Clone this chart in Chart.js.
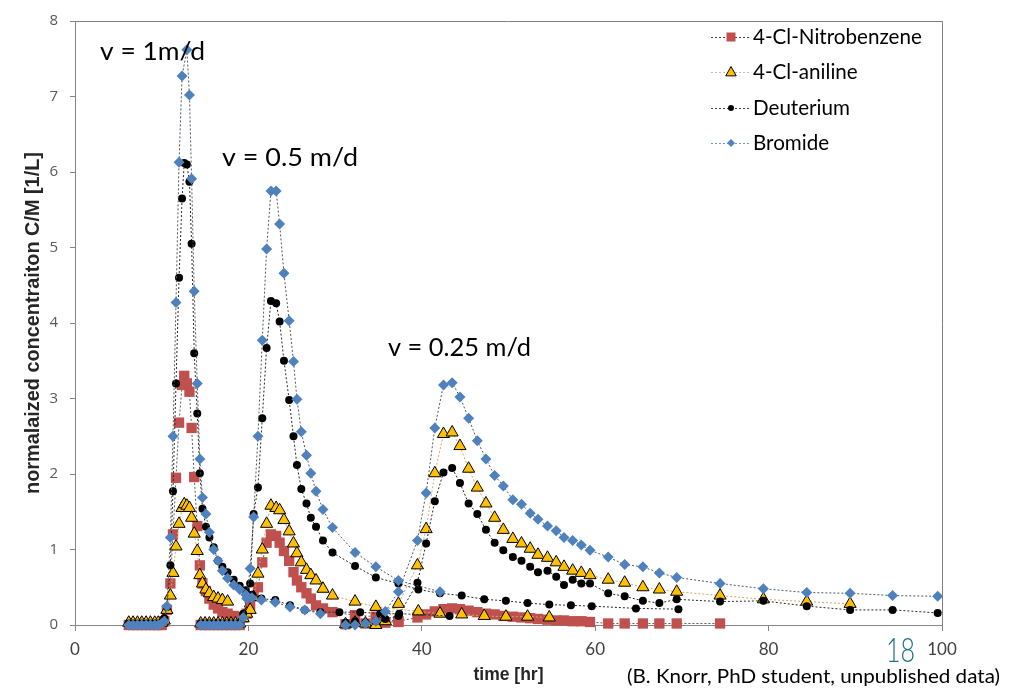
<!DOCTYPE html>
<html>
<head>
<meta charset="utf-8">
<script src="https://cdn.jsdelivr.net/npm/chart.js@4.4.0/dist/chart.umd.min.js"></script>
<style>
  html, body { margin: 0; padding: 0; background: #fff; }
  #wrap { position: relative; width: 1010px; height: 688px; }
</style>
</head>
<body>
<div id="wrap"><canvas id="myChart" width="1010" height="688"></canvas></div>
<script>
// Series names (legend order)
const species = ['4-Cl-Nitrobenzene', '4-Cl-aniline', 'Deuterium', 'Bromide'];

// Run v = 1 m/d : sampling times [hr] and C/M values
const t_v1 = [6.2, 6.7, 7.2, 7.7, 8.2, 8.7, 9.2, 9.6, 10.0, 10.3, 10.6, 11.0, 11.3, 11.65, 12.0, 12.35, 12.6, 12.9, 13.2, 13.45, 13.75, 14.1, 14.4, 14.7, 15.1, 15.5, 16.0, 16.5, 17.0, 17.6, 18.3, 19.0, 19.7, 20.4, 21.5, 23.1, 24.8, 26.5, 28.3, 30.5, 32.9, 35.2, 37.4, 43.2];
const nitro_v1 = [0, 0, 0, 0, 0, 0, 0, 0, 0, 0.05, 0.2, 0.55, 1.2, 1.95, 2.68, 3.18, 3.3, 3.2, 3.09, 2.61, 1.96, 1.31, 0.79, 0.55, 0.45, 0.35, 0.27, 0.22, 0.17, 0.15, 0.12, 0.1, null, null, null, null, null, null, null, null, null, null, null, null];
const aniline_v1 = [0.03, 0.03, 0.03, 0.03, 0.03, 0.03, 0.03, 0.03, 0.03, 0.06, 0.2, 0.39, 0.69, 1.04, 1.34, 1.55, 1.6, 1.58, 1.55, 1.42, 1.21, 0.98, 0.66, 0.55, 0.47, 0.42, 0.37, 0.35, 0.33, 0.31, null, null, null, null, null, null, null, null, null, null, null, null, null, null];
const deut_v1 = [0.02, 0.02, 0.02, 0.02, 0.02, 0.02, 0.02, 0.02, 0.03, 0.09, 0.24, 0.79, 1.77, 3.2, 4.6, 5.65, 6.12, 6.1, 5.87, 5.05, 3.6, 2.8, 2.01, 1.54, 1.3, 1.16, 1.03, 0.85, 0.77, 0.7, 0.6, 0.52, 0.46, 0.4, 0.35, 0.33, 0.26, 0.2, 0.17, 0.17, 0.17, 0.15, 0.15, 0.12];
const brom_v1 = [0, 0, 0, 0, 0, 0, 0, 0, 0.02, 0.05, 0.25, 1.16, 2.5, 4.27, 6.13, 7.27, null, 7.62, 7.02, 5.91, 4.42, 3.2, 2.2, 1.69, 1.47, 1.23, 1.0, 0.85, 0.72, 0.62, 0.53, 0.47, 0.4, 0.36, 0.33, 0.3, 0.24, 0.2, 0.15, null, null, null, null, null];

// Run v = 0.5 m/d
const t_v05 = [14.5, 15.0, 15.5, 16.0, 16.5, 17.0, 17.5, 18.0, 18.5, 19.0, 19.4, 19.8, 20.2, 20.6, 21.1, 21.6, 22.1, 22.6, 23.2, 23.6, 24.1, 24.7, 25.2, 25.6, 26.1, 26.7, 27.2, 27.8, 28.6, 29.7, 32.3, 34.7, 37.3, 39.6, 42.1, 44.6, 47.2, 49.7, 52.2, 54.7, 57.2, 59.6, 64.7, 69.6];
const nitro_v05 = [0, 0, 0, 0, 0, 0, 0, 0, 0, 0, 0.1, 0.15, 0.26, 0.38, 0.5, 0.83, 1.09, 1.2, 1.18, 1.09, 0.98, 0.85, 0.7, 0.59, 0.5, 0.42, 0.35, 0.26, 0.22, 0.17, 0.13, 0.11, 0.04, null, null, null, null, null, null, null, null, null, null, null];
const aniline_v05 = [0.02, 0.02, 0.02, 0.02, 0.02, 0.02, 0.02, 0.02, 0.02, 0.02, 0.09, 0.15, 0.2, 0.37, 0.68, 1.0, 1.34, 1.58, 1.55, 1.52, 1.39, 1.24, 1.08, 0.95, 0.83, 0.73, 0.66, 0.59, 0.48, 0.39, 0.31, 0.24, null, 0.18, 0.15, 0.14, 0.12, 0.11, 0.11, 0.10, null, null, null, null];
const deut_v05 = [0.02, 0.02, 0.02, 0.02, 0.02, 0.02, 0.02, 0.02, 0.02, 0.02, 0.15, 0.39, 0.55, 1.47, 1.82, 2.74, 3.67, 4.29, 4.26, 4.02, 3.5, 2.98, 2.5, 2.12, 1.8, 1.61, 1.42, 1.3, 1.12, 0.96, 0.78, 0.63, 0.55, 0.47, 0.42, 0.39, 0.34, 0.32, 0.29, 0.27, 0.26, 0.25, 0.22, 0.21];
const brom_v05 = [0, 0, 0, 0, 0, 0, 0, 0, 0, 0, 0.1, 0.35, 0.75, 1.43, 2.5, 3.77, 4.98, 5.75, 5.75, 5.31, 4.66, 4.03, 3.49, 2.99, 2.56, 2.25, 2.01, 1.77, 1.53, 1.29, 0.96, 0.77, 0.59, null, 0.44, null, null, null, null, null, null, null, null, null];

// Run v = 0.25 m/d
const t_v025 = [31.2, 32.3, 33.5, 34.7, 35.8, 37.3, 39.5, 40.5, 41.5, 42.5, 43.5, 44.4, 45.4, 46.4, 47.4, 48.4, 49.4, 50.5, 51.5, 52.5, 53.4, 54.5, 55.5, 56.4, 57.4, 58.4, 59.4, 61.5, 63.4, 65.5, 67.4, 69.4, 74.4, 79.4, 84.4, 89.4, 94.3, 99.5];
const nitro_v025 = [0.01, 0.05, 0.02, 0.08, 0.03, 0.05, 0.1, 0.14, 0.18, 0.21, 0.22, 0.21, 0.19, 0.17, 0.15, 0.14, 0.12, 0.11, 0.1, 0.09, 0.08, 0.07, 0.06, 0.06, 0.05, 0.05, 0.04, 0.02, 0.02, 0.02, 0.02, 0.02, 0.02, null, null, null, null, null];
const aniline_v025 = [0.01, 0.03, 0.02, 0.0, 0.05, 0.28, 0.79, 1.27, 2.01, 2.53, 2.55, 2.37, 2.07, 1.82, 1.61, 1.42, 1.26, 1.14, 1.08, 1.01, 0.93, 0.89, 0.83, 0.77, 0.72, 0.69, 0.66, 0.6, 0.56, 0.5, 0.47, 0.44, 0.39, 0.34, 0.31, 0.28, null, null];
const deut_v025 = [0.03, 0.05, 0.03, 0.05, 0.08, 0.12, 0.56, 1.08, 1.64, 2.02, 2.08, 1.88, 1.61, 1.47, 1.26, 1.09, 0.99, 0.9, 0.85, 0.77, 0.70, 0.72, 0.64, 0.53, 0.60, 0.55, 0.55, 0.42, 0.38, 0.32, 0.29, 0.34, 0.31, 0.32, 0.25, 0.2, 0.2, 0.16];
const brom_v025 = [0, 0, 0.02, 0.05, 0.18, 0.44, 1.12, 1.75, 2.61, 3.18, 3.21, 3.02, 2.74, 2.44, 2.2, 1.98, 1.84, 1.66, 1.6, 1.48, 1.40, 1.31, 1.25, 1.16, 1.12, 1.06, 0.99, 0.9, 0.8, 0.77, 0.69, 0.63, 0.55, 0.48, 0.43, 0.42, 0.39, 0.38];

// Axis ticks
const x_ticks = [0, 20, 40, 60, 80, 100];
const y_ticks = [0, 1, 2, 3, 4, 5, 6, 7, 8];

// Run annotations
const run_labels = ['v = 1m/d', 'v = 0.5 m/d', 'v = 0.25 m/d'];

const runs = [
  { t: t_v1, vals: [nitro_v1, aniline_v1, deut_v1, brom_v1] },
  { t: t_v05, vals: [nitro_v05, aniline_v05, deut_v05, brom_v05] },
  { t: t_v025, vals: [nitro_v025, aniline_v025, deut_v025, brom_v025] }
];

// marker / line look per species
const styles = [
  { shape: 'rect', radius: 7.3, fill: '#C0504D', stroke: '#C0504D', bw: 0, line: '#5a5a5a' },
  { shape: 'triangle', radius: 7, fill: '#FFC000', stroke: '#000000', bw: 1, line: '#d2a867' },
  { shape: 'circle', radius: 4, fill: '#000000', stroke: '#000000', bw: 0, line: '#262626' },
  { shape: 'rectRot', radius: 5.5, fill: '#4F81BD', stroke: '#4F81BD', bw: 0, line: '#4d5866' }
];

const fam = "Lato, 'Open Sans', sans-serif";
const plain = "'Liberation Sans', Arial, sans-serif";

// font size that makes text span a given width
const mctx = document.createElement('canvas').getContext('2d');
function fitSize(text, weight, family, width) {
  mctx.font = weight + ' 100px ' + family;
  return 100 * width / mctx.measureText(text).width;
}

// text squeezed horizontally to a given width (condensed slide font look)
function squeezeText(ctx, text, font, x, y, width) {
  ctx.font = font;
  const w = ctx.measureText(text).width;
  ctx.save();
  ctx.translate(x, y);
  ctx.scale(width / w, 1);
  ctx.fillText(text, 0, 0);
  ctx.restore();
}

const datasets = [];
runs.forEach(run => {
  run.vals.forEach((vals, k) => {
    const st = styles[k];
    const pts = [];
    run.t.forEach((t, i) => { if (vals[i] !== null) pts.push({ x: t, y: vals[i] }); });
    datasets.push({
      label: species[k],
      data: pts,
      order: 4 - k,
      borderColor: st.line,
      borderWidth: 1,
      borderDash: [2, 2],
      pointStyle: st.shape,
      pointRadius: st.radius,
      pointBackgroundColor: st.fill,
      pointBorderColor: st.stroke,
      pointBorderWidth: st.bw,
      fill: false,
      tension: 0,
      clip: false
    });
  });
});

function drawMarker(ctx, shape, x, y, r, fill, stroke, bw) {
  ctx.beginPath();
  if (shape === 'rect') {
    ctx.rect(x - r, y - r, 2 * r, 2 * r);
  } else if (shape === 'triangle') {
    ctx.moveTo(x, y - r);
    ctx.lineTo(x + r * 0.95, y + r * 0.7);
    ctx.lineTo(x - r * 0.95, y + r * 0.7);
    ctx.closePath();
  } else if (shape === 'circle') {
    ctx.arc(x, y, r, 0, Math.PI * 2);
  } else {
    ctx.moveTo(x - r, y); ctx.lineTo(x, y - r); ctx.lineTo(x + r, y); ctx.lineTo(x, y + r);
    ctx.closePath();
  }
  ctx.fillStyle = fill;
  ctx.fill();
  if (bw) { ctx.lineWidth = bw; ctx.strokeStyle = stroke; ctx.stroke(); }
}

const extras = {
  id: 'extras',
  afterDraw(chart) {
    const ctx = chart.ctx;
    const a = chart.chartArea;
    ctx.save();
    // frame top and right
    ctx.strokeStyle = '#7f7f7f';
    ctx.lineWidth = 1;
    ctx.beginPath();
    ctx.moveTo(a.left, Math.round(a.top) + 0.5);
    ctx.lineTo(Math.round(a.right) + 0.5, Math.round(a.top) + 0.5);
    ctx.lineTo(Math.round(a.right) + 0.5, a.bottom);
    ctx.stroke();

    ctx.textBaseline = 'middle';
    ctx.textAlign = 'left';
    ctx.fillStyle = '#000';
    // run labels
    const runPos = [[100, 52, 105], [222, 158, 136], [388, 348, 143]];
    run_labels.forEach((txt, i) => {
      const p = runPos[i];
      squeezeText(ctx, txt, '25px ' + fam, p[0], p[1], p[2]);
    });

    // legend
    const legY = [37, 72, 108, 143];
    const legR = [4.5, 5.5, 3, 4];
    const legSize = fitSize(species[0], 'normal', fam, 169);
    species.forEach((name, k) => {
      const st = styles[k];
      const y = legY[k];
      ctx.save();
      ctx.strokeStyle = k === 1 ? '#bdbdbd' : (k === 3 ? '#7d95b5' : '#404040');
      ctx.lineWidth = 1;
      ctx.setLineDash([2, 2]);
      ctx.beginPath();
      ctx.moveTo(711, y + 0.5);
      ctx.lineTo(751, y + 0.5);
      ctx.stroke();
      ctx.restore();
      drawMarker(ctx, st.shape, 731, y, legR[k], st.fill, st.stroke, st.bw);
      ctx.fillStyle = '#000';
      ctx.font = legSize.toFixed(1) + 'px ' + fam;
      ctx.fillText(name, 753, y);
    });

    // slide footer
    const credit = '(B. Knorr, PhD student, unpublished data)';
    ctx.fillStyle = '#000';
    squeezeText(ctx, credit, '20px ' + fam, 627, 677, 373);
    ctx.fillStyle = '#1f6f87';
    squeezeText(ctx, '18', '300 34px ' + fam, 886, 651, 29);
    ctx.restore();
  }
};

const yTitle = 'normalaized concentraiton C/M [1/L]';
const xTitle = 'time [hr]';

const ctx = document.getElementById('myChart').getContext('2d');
const chart = new Chart(ctx, {
  type: 'line',
  data: { datasets: datasets },
  options: {
    responsive: false,
    animation: false,
    events: [],
    layout: { padding: { left: 0, top: 17, right: 68, bottom: 0 } },
    plugins: {
      legend: { display: false },
      tooltip: { enabled: false }
    },
    scales: {
      x: {
        type: 'linear',
        min: 0, max: 100,
        afterFit: s => { s.height = 63; },
        afterBuildTicks: s => { s.ticks = x_ticks.map(v => ({ value: v })); },
        grid: { drawOnChartArea: false, drawTicks: true, tickLength: 6, color: '#868686' },
        border: { color: '#868686' },
        ticks: {
          color: '#404040', padding: 8,
          font: { family: fam, size: 17 }
        },
        title: {
          display: true, text: xTitle, color: '#262626',
          padding: { top: 0, bottom: 2 },
          font: { family: plain, weight: 'bold', size: fitSize(xTitle, 'bold', plain, 70) }
        }
      },
      y: {
        type: 'linear',
        min: 0, max: 8,
        afterFit: s => { s.width = 75; },
        afterBuildTicks: s => { s.ticks = y_ticks.map(v => ({ value: v })); },
        grid: { drawOnChartArea: false, drawTicks: true, tickLength: 5, color: '#868686' },
        border: { color: '#868686' },
        ticks: {
          color: '#595959', padding: 12,
          font: { family: "'Open Sans', sans-serif", size: 15 }
        },
        title: {
          display: true, text: yTitle, color: '#262626',
          padding: { top: 22, bottom: 0 },
          font: { family: plain, weight: 'bold', size: fitSize(yTitle, 'bold', plain, 342) }
        }
      }
    }
  },
  plugins: [extras]
});
</script>
</body>
</html>
